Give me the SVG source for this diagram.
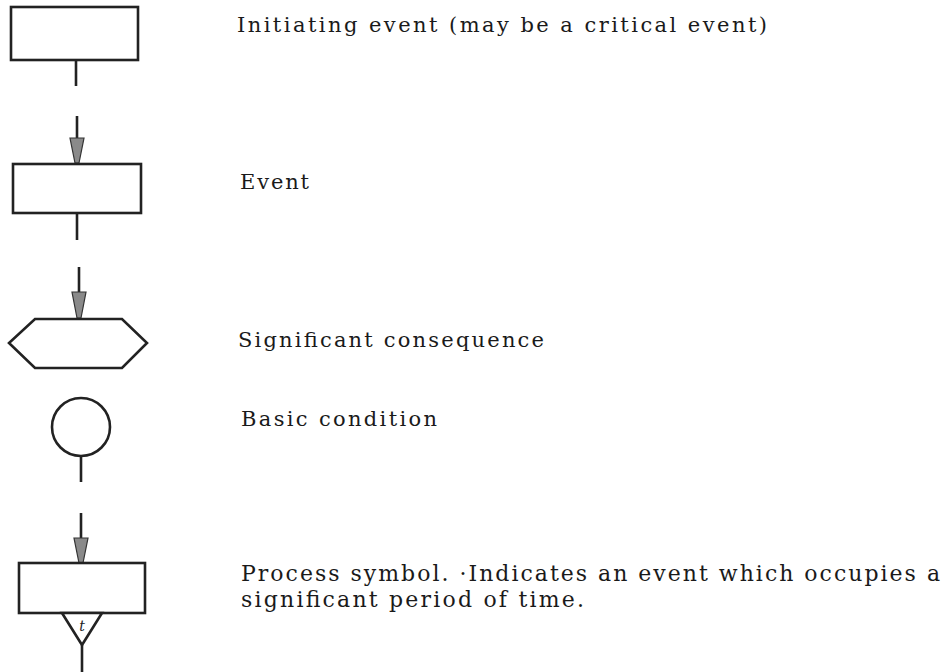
<svg xmlns="http://www.w3.org/2000/svg" width="943" height="672" viewBox="0 0 943 672">
<style>
.shape{fill:#fff;stroke:#222;stroke-width:2.6}
.line{stroke:#222;stroke-width:2.6;fill:none}
.head{fill:#8a8a8a;stroke:#333;stroke-width:1.2}
.lbl{font-family:"DejaVu Serif","Liberation Serif",serif;font-size:21px;fill:#1a1a1a}
.big{font-size:22px}
</style>
<rect width="943" height="672" fill="#fff"/>
<g id="connectors">
<line class="line" x1="76" y1="60" x2="76" y2="86"/>
<line class="line" x1="77" y1="116" x2="77" y2="140"/>
<polygon class="head" points="70,138 84,138 79,163 75,163"/>
<line class="line" x1="77" y1="213" x2="77" y2="240"/>
<line class="line" x1="79" y1="267" x2="79" y2="294"/>
<polygon class="head" points="72,292 86,292 81,318 77,318"/>
<line class="line" x1="81" y1="456" x2="81" y2="482"/>
<line class="line" x1="81" y1="513" x2="81" y2="540"/>
<polygon class="head" points="74,538 88,538 83,563 79,563"/>
<line class="line" x1="82" y1="645" x2="82" y2="672"/>
</g>
<g id="initiating-event">
<rect class="shape" x="11" y="7" width="127" height="53"/>
<text class="lbl" x="237" y="32" textLength="530" lengthAdjust="spacing">Initiating event (may be a critical event)</text>
</g>
<g id="event">
<rect class="shape" x="13" y="164" width="128" height="49"/>
<text class="lbl" x="240" y="189" textLength="69" lengthAdjust="spacing">Event</text>
</g>
<g id="significant-consequence">
<polygon class="shape" points="35,319 122,319 147,343 122,368 35,368 9,343"/>
<text class="lbl" x="238" y="347" textLength="306" lengthAdjust="spacing">Significant consequence</text>
</g>
<g id="basic-condition">
<circle class="shape" cx="81" cy="427" r="29"/>
<text class="lbl" x="241" y="426" textLength="196" lengthAdjust="spacing">Basic condition</text>
</g>
<g id="process-symbol">
<rect class="shape" x="19" y="563" width="126" height="50"/>
<polygon class="shape" points="62,613 102,613 82,645"/>
<text x="82" y="631" font-family="DejaVu Serif,serif" font-size="14" font-style="italic" text-anchor="middle" fill="#222">t</text>
<text class="lbl big" x="241" y="581" textLength="699" lengthAdjust="spacing">Process symbol. ·Indicates an event which occupies a</text>
<text class="lbl big" x="241" y="607" textLength="343" lengthAdjust="spacing">significant period of time.</text>
</g>
</svg>
